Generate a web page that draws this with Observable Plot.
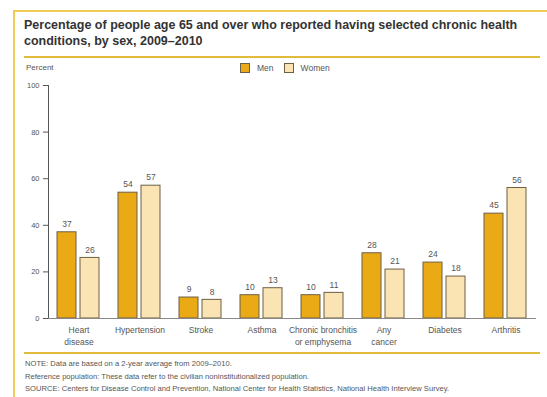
<!DOCTYPE html>
<html>
<head>
<meta charset="utf-8">
<script src="https://cdn.jsdelivr.net/npm/d3@7"></script>
<script src="https://cdn.jsdelivr.net/npm/@observablehq/plot@0.6"></script>
<style>
  html, body { margin: 0; padding: 0; background: #fff; }
  body { width: 547px; height: 397px; position: relative; overflow: hidden; font-family: "Liberation Sans", Arial, sans-serif; }
  .frame { position: absolute; left: 13px; top: 10px; width: 540px; height: 400px; border-left: 2px solid #F1CC55; border-top: 2px solid #F1CC55; }
  .title { position: absolute; left: 24px; top: 17px; width: 520px; font-size: 12.5px; font-weight: bold; color: #333; line-height: 16px; white-space: nowrap; }
  .rule { position: absolute; left: 24px; width: 516px; height: 2px; background: #E2BB3A; }
  .percent { position: absolute; left: 26px; top: 63px; font-size: 8px; color: #555; }
  .legend { position: absolute; top: 63px; left: 240px; font-size: 8.5px; color: #555; display: flex; align-items: center; }
  .sw { display: inline-block; width: 8px; height: 8px; border: 1px solid #6d5f45; margin-right: 7px; }
  .item { display: flex; align-items: center; margin-right: 10px; }
  .notes { position: absolute; left: 25px; top: 358px; font-size: 7.6px; color: #555; line-height: 12.5px; white-space: nowrap; }
  #chart { position: absolute; left: 14px; top: 58px; }
</style>
</head>
<body>
<div class="frame"></div>
<div class="title">Percentage of people age 65 and over who reported having selected chronic health<br>conditions, by sex, 2009–2010</div>
<div class="rule" style="top:56px"></div>
<div class="percent">Percent</div>
<div class="legend" id="legend"></div>
<div id="chart"></div>
<div class="rule" style="top:352px"></div>
<div class="notes">
  NOTE: Data are based on a 2-year average from 2009–2010.<br>
  Reference population: These data refer to the civilian noninstitutionalized population.<br>
  SOURCE: Centers for Disease Control and Prevention, National Center for Health Statistics, National Health Interview Survey.
</div>
<script>
const categories = ["Heart disease", "Hypertension", "Stroke", "Asthma", "Chronic bronchitis or emphysema", "Any cancer", "Diabetes", "Arthritis"];
const categoryLabels = ["Heart\ndisease", "Hypertension", "Stroke", "Asthma", "Chronic bronchitis\nor emphysema", "Any\ncancer", "Diabetes", "Arthritis"];
const sexes = ["Men", "Women"];
const men = [37, 54, 9, 10, 10, 28, 24, 45];
const women = [26, 57, 8, 13, 11, 21, 18, 56];
const yTicks = [0, 20, 40, 60, 80, 100];
const colors = ["#E9AA16", "#FBE4B3"];

const rows = [];
categories.forEach((c, i) => {
  rows.push({category: c, sex: "Men", value: men[i]});
  rows.push({category: c, sex: "Women", value: women[i]});
});
const labelOf = new Map(categories.map((c, i) => [c, categoryLabels[i]]));

const legend = document.getElementById("legend");
sexes.forEach((s, i) => {
  const it = document.createElement("span");
  it.className = "item";
  it.innerHTML = `<span class="sw" style="background:${colors[i]}"></span>${s}`;
  legend.appendChild(it);
});

const chart = Plot.plot({
  width: 533,
  height: 292,
  marginLeft: 33,
  marginTop: 27,
  marginRight: 10,
  marginBottom: 32,
  style: {fontFamily: "Liberation Sans, Arial, sans-serif", fontSize: "7.5px", color: "#555", background: "transparent", overflow: "visible"},
  fx: {domain: categories, padding: 0, label: null},
  x: {domain: sexes, paddingInner: 1/6, paddingOuter: 0.36, axis: null},
  y: {domain: [0, 100], ticks: yTicks, tickSize: 5, line: true, label: null},
  color: {domain: sexes, range: colors},
  marks: [
    Plot.axisFx({anchor: "bottom", tickSize: 0, tickPadding: 6, fontSize: 8.5, lineHeight: 1.4, label: null, tickFormat: d => labelOf.get(d), fill: "#555"}),
    Plot.barY(rows, {fx: "category", x: "sex", y: "value", fill: "sex", stroke: "#6d5f45", strokeWidth: 1}),
    Plot.text(rows, {fx: "category", x: "sex", y: "value", text: d => String(d.value), dy: -8, fontSize: 8.5, fill: "#555"}),
    Plot.ruleY([0], {stroke: "#888"})
  ]
});
document.getElementById("chart").appendChild(chart);
</script>
</body>
</html>
